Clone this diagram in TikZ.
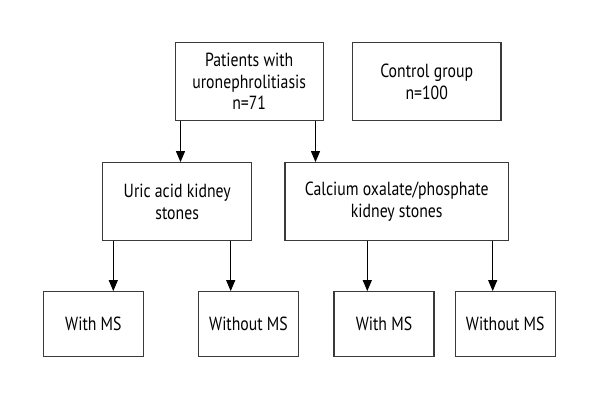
\documentclass[tikz,border=0pt]{standalone}
\usepackage{fontspec}
\setmainfont[FakeStretch=0.83]{PT Sans}
\usetikzlibrary{arrows.meta}
\definecolor{edge}{HTML}{3A3A3A}
\tikzset{
  box/.style={draw=edge, line width=1.2pt, fill=white, align=center, inner sep=0pt,
    font=\fontsize{19}{21.5}\selectfont, text=black},
  arr/.style={draw=black, line width=1.1pt, -{Triangle[length=11pt,width=9pt]}}
}
\begin{document}
\begin{tikzpicture}[x=1pt,y=-1pt]
\useasboundingbox (0,0) rectangle (600,400);
\node[box, minimum width=148pt, minimum height=78pt] (top) at (249.2,81.7) {Patients with\\uronephrolitiasis\\n=71};
\node[box, minimum width=148.5pt, minimum height=78pt] (ctrl) at (426.7,81.7) {Control group\\n=100};
\node[box, minimum width=149pt, minimum height=78pt] (uric) at (177.2,201.7) {Uric acid kidney\\stones};
\node[box, minimum width=223.3pt, minimum height=78pt] (calc) at (396.7,201.7) {Calcium oxalate/phosphate\\kidney stones};
\node[box, minimum width=100pt, minimum height=65pt] (b1) at (93.4,324.2) {With MS};
\node[box, minimum width=100pt, minimum height=65pt] (b2) at (248.5,324.2) {Without MS};
\node[box, minimum width=100pt, minimum height=65pt] (b3) at (384,324.2) {With MS};
\node[box, minimum width=100pt, minimum height=65pt] (b4) at (505.3,324.2) {Without MS};
\draw[arr] ([xshift=-68.7pt]top.south) -- ([xshift=-68.7pt]top.south |- uric.north);
\draw[arr] ([xshift=66.3pt]top.south) -- ([xshift=66.3pt]top.south |- calc.north);
\draw[arr] ([xshift=-63.9pt]uric.south) -- ([xshift=-63.9pt]uric.south |- b1.north);
\draw[arr] ([xshift=53.5pt]uric.south) -- ([xshift=53.5pt]uric.south |- b2.north);
\draw[arr] ([xshift=-29.4pt]calc.south) -- ([xshift=-29.4pt]calc.south |- b3.north);
\draw[arr] ([xshift=96pt]calc.south) -- ([xshift=96pt]calc.south |- b4.north);
\end{tikzpicture}
\end{document}
